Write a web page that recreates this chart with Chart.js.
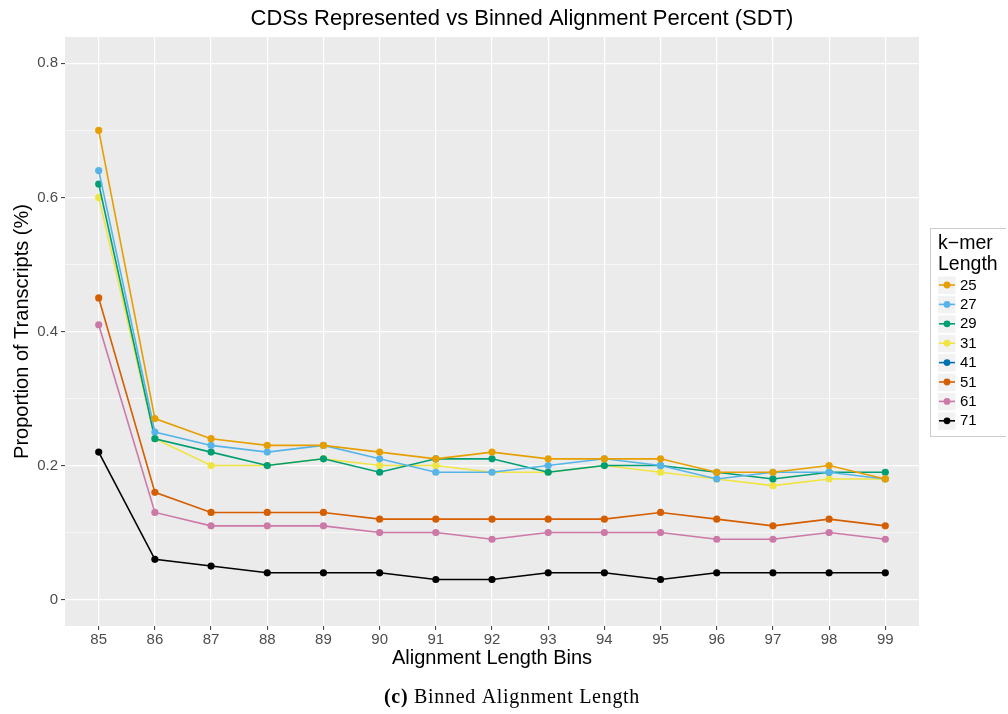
<!DOCTYPE html>
<html>
<head>
<meta charset="utf-8">
<title>CDSs Represented vs Binned Alignment Percent (SDT)</title>
<script src="https://cdn.jsdelivr.net/npm/chart.js@4/dist/chart.umd.min.js"></script>
<style>
  html, body { margin: 0; padding: 0; background: #ffffff; }
  #wrap { position: relative; width: 1008px; height: 714px; }
</style>
</head>
<body>
<div id="wrap"><canvas id="c" width="1008" height="714"></canvas></div>
<script>
// Alignment length bins (x categories)
const bins = [85, 86, 87, 88, 89, 90, 91, 92, 93, 94, 95, 96, 97, 98, 99];

// k-mer lengths shown in the legend
const kmers = ['25', '27', '29', '31', '41', '51', '61', '71'];

// Proportion of transcripts per bin, one array per k-mer length
const k25 = [0.70, 0.27, 0.24, 0.23, 0.23, 0.22, 0.21, 0.22, 0.21, 0.21, 0.21, 0.19, 0.19, 0.20, 0.18];
const k27 = [0.64, 0.25, 0.23, 0.22, 0.23, 0.21, 0.19, 0.19, 0.20, 0.21, 0.20, 0.18, 0.19, 0.19, 0.18];
const k29 = [0.62, 0.24, 0.22, 0.20, 0.21, 0.19, 0.21, 0.21, 0.19, 0.20, 0.20, 0.19, 0.18, 0.19, 0.19];
const k31 = [0.60, 0.24, 0.20, 0.20, 0.21, 0.20, 0.20, 0.19, 0.19, 0.20, 0.19, 0.18, 0.17, 0.18, 0.18];
const k41 = [];
const k51 = [0.45, 0.16, 0.13, 0.13, 0.13, 0.12, 0.12, 0.12, 0.12, 0.12, 0.13, 0.12, 0.11, 0.12, 0.11];
const k61 = [0.41, 0.13, 0.11, 0.11, 0.11, 0.10, 0.10, 0.09, 0.10, 0.10, 0.10, 0.09, 0.09, 0.10, 0.09];
const k71 = [0.22, 0.06, 0.05, 0.04, 0.04, 0.04, 0.03, 0.03, 0.04, 0.04, 0.03, 0.04, 0.04, 0.04, 0.04];

// Y-axis tick labels (major) and minor grid positions
const yMajor = [0, 0.2, 0.4, 0.6, 0.8];
const yMajorLabels = ['0', '0.2', '0.4', '0.6', '0.8'];
const yMinor = [0.1, 0.3, 0.5, 0.7];

const colors = ['#E69F00', '#56B4E9', '#009E73', '#F0E442', '#0072B2', '#D55E00', '#CC79A7', '#000000'];
const seriesValues = [k25, k27, k29, k31, k41, k51, k61, k71];

const datasets = kmers.map((k, i) => ({
  label: k,
  data: seriesValues[i].map((v, j) => ({ x: bins[j], y: v })),
  borderColor: colors[i],
  backgroundColor: colors[i],
  pointBackgroundColor: colors[i],
  pointBorderColor: colors[i],
  borderWidth: 1.6,
  pointRadius: 3.6,
  pointBorderWidth: 0,
  pointHoverRadius: 3.6,
  tension: 0,
  fill: false
}));

const SANS = '"Liberation Sans", Arial, Helvetica, sans-serif';
const SERIF = '"Liberation Serif", "DejaVu Serif", serif';

// Grey panel behind the plotting area
const panelBg = {
  id: 'panelBg',
  beforeDraw(chart) {
    const { ctx, chartArea: a } = chart;
    ctx.save();
    ctx.fillStyle = '#EBEBEB';
    ctx.fillRect(a.left, a.top, a.right - a.left, a.bottom - a.top);
    ctx.restore();
  }
};

// Titles, caption and the k-mer legend
const annotations = {
  id: 'annotations',
  afterDraw(chart) {
    const { ctx, chartArea: a } = chart;
    ctx.save();
    ctx.fillStyle = '#000000';
    ctx.textBaseline = 'middle';

    // Main title
    ctx.font = '22px ' + SANS;
    ctx.textAlign = 'center';
    ctx.fillText('CDSs Represented vs Binned Alignment Percent (SDT)', 522, 19);

    // X axis title
    ctx.font = '20px ' + SANS;
    ctx.fillText('Alignment Length Bins', (a.left + a.right) / 2, 658);

    // Y axis title
    ctx.save();
    ctx.translate(22, (a.top + a.bottom) / 2);
    ctx.rotate(-Math.PI / 2);
    ctx.fillText('Proportion of Transcripts (%)', 0, 0);
    ctx.restore();

    // Caption below the chart
    ctx.textAlign = 'left';
    ctx.letterSpacing = '0.7px';
    const capB = '(c)';
    const capR = ' Binned Alignment Length';
    ctx.font = 'bold 20px ' + SERIF;
    const wB = ctx.measureText(capB).width;
    ctx.font = '20px ' + SERIF;
    const wR = ctx.measureText(capR).width;
    const cx0 = 512 - (wB + wR) / 2;
    ctx.font = 'bold 20px ' + SERIF;
    ctx.fillText(capB, cx0, 698);
    ctx.font = '20px ' + SERIF;
    ctx.fillText(capR, cx0 + wB, 698);
    ctx.letterSpacing = '0px';

    // Legend box
    const lx = 930, ly = 228, lw = 76, lh = 208;
    ctx.strokeStyle = '#CCCCCC';
    ctx.lineWidth = 1;
    ctx.beginPath();
    ctx.moveTo(lx, ly + 0.5); ctx.lineTo(lx + lw, ly + 0.5);
    ctx.moveTo(lx, ly + lh + 0.5); ctx.lineTo(lx + lw, ly + lh + 0.5);
    ctx.moveTo(lx + 0.5, ly); ctx.lineTo(lx + 0.5, ly + lh);
    ctx.stroke();

    ctx.fillStyle = '#000000';
    ctx.font = '19.5px ' + SANS;
    ctx.fillText('k\u2212mer', 938, 244);
    ctx.fillText('Length', 938, 265);

    const rowH = 19.4;
    kmers.forEach((k, i) => {
      const cy = 285 + i * rowH;
      ctx.fillStyle = '#F2F2F2';
      ctx.fillRect(938, cy - 8.5, 17.5, 17.5);
      ctx.strokeStyle = colors[i];
      ctx.lineWidth = 1.6;
      ctx.beginPath();
      ctx.moveTo(939, cy); ctx.lineTo(955, cy);
      ctx.stroke();
      ctx.fillStyle = colors[i];
      ctx.beginPath();
      ctx.arc(947, cy, 3.4, 0, Math.PI * 2);
      ctx.fill();
      ctx.fillStyle = '#000000';
      ctx.font = '15px ' + SANS;
      ctx.fillText(k, 960, cy + 0.5);
    });
    ctx.restore();
  }
};

const isMinor = v => yMinor.some(m => Math.abs(m - v) < 1e-9);

new Chart(document.getElementById('c'), {
  type: 'line',
  data: { datasets },
  options: {
    responsive: false,
    animation: false,
    events: [],
    layout: { padding: { left: 0, top: 37, right: 89, bottom: 0 } },
    plugins: {
      legend: { display: false },
      title: { display: false },
      tooltip: { enabled: false }
    },
    scales: {
      x: {
        type: 'linear',
        min: 84.4,
        max: 99.6,
        afterFit(scale) { scale.height = 88; },
        afterBuildTicks(scale) { scale.ticks = bins.map(v => ({ value: v })); },
        border: { display: false },
        grid: {
          color: '#FFFFFF',
          lineWidth: 1.2,
          tickLength: 4,
          tickColor: '#333333',
          tickWidth: 1
        },
        ticks: {
          color: '#4D4D4D',
          font: { family: SANS, size: 15 },
          padding: 1,
          maxRotation: 0,
          autoSkip: false,
          callback: v => String(v)
        }
      },
      y: {
        type: 'linear',
        min: -0.0394,
        max: 0.8393,
        afterFit(scale) { scale.width = 65; },
        afterBuildTicks(scale) {
          const all = yMajor.concat(yMinor).sort((p, q) => p - q);
          scale.ticks = all.map(v => ({ value: v }));
        },
        border: { display: false },
        grid: {
          color: '#FFFFFF',
          lineWidth: ctx => (ctx.tick && isMinor(ctx.tick.value)) ? 0.6 : 1.2,
          tickLength: 4,
          tickColor: ctx => (ctx.tick && isMinor(ctx.tick.value)) ? 'rgba(0,0,0,0)' : '#333333',
          tickWidth: 1
        },
        ticks: {
          color: '#4D4D4D',
          font: { family: SANS, size: 15 },
          padding: 3,
          autoSkip: false,
          callback: v => {
            const idx = yMajor.findIndex(m => Math.abs(m - v) < 1e-9);
            return idx >= 0 ? yMajorLabels[idx] : '';
          }
        }
      }
    }
  },
  plugins: [panelBg, annotations]
});
</script>
</body>
</html>
